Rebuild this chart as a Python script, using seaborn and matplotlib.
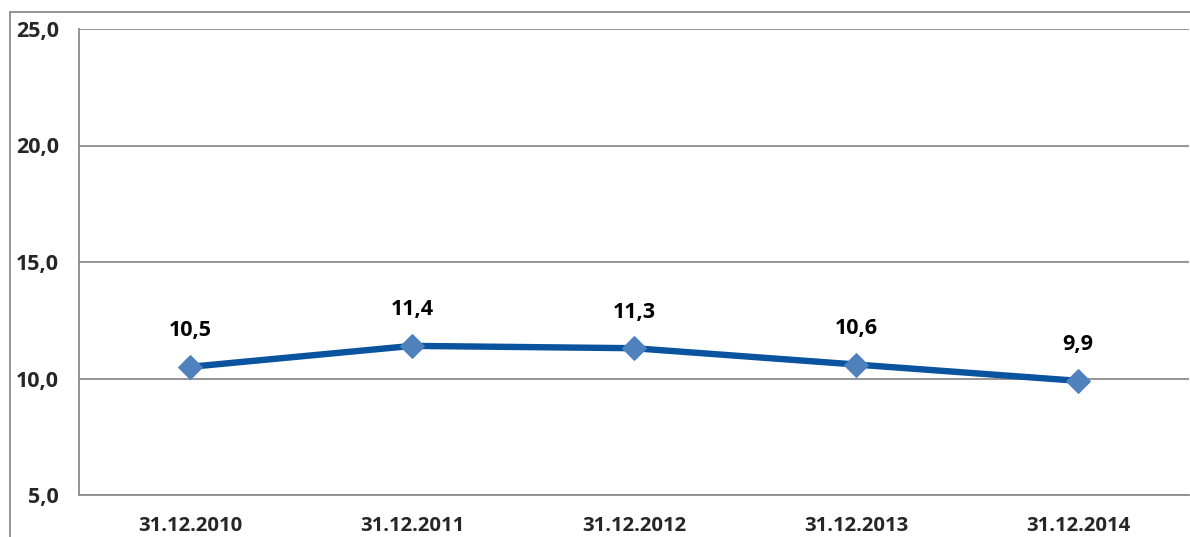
import pandas as pd
import numpy as np
import matplotlib.pyplot as plt
import matplotlib.ticker as mticker
from matplotlib.patches import Rectangle
import seaborn as sns

# Values
dates = ["31.12.2010", "31.12.2011", "31.12.2012", "31.12.2013", "31.12.2014"]
values = [10.5, 11.4, 11.3, 10.6, 9.9]
y_ticks = [5, 10, 15, 20, 25]

df = pd.DataFrame({"Date": dates, "Value": values})

sns.set_style("white")
plt.rcParams["font.family"] = ["Open Sans", "DejaVu Sans"]
plt.rcParams["font.weight"] = "bold"

fig = plt.figure(figsize=(11.9, 5.37), dpi=100)
W, H = 1190, 537
ax = fig.add_axes([79 / W, (H - 495) / H, (1189 - 79) / W, (495 - 29) / H])

# chart area border (cropped on the right and bottom)
fig.patches.append(Rectangle((10 / W, -0.05), 1.2, (H - 12) / H + 0.05,
                             transform=fig.transFigure, fill=False,
                             edgecolor="#8c8c8c", linewidth=1.3))

x = np.arange(len(dates))
sns.lineplot(x=x, y=df["Value"], ax=ax, color="#0A539E", linewidth=4.6,
             marker="D", markersize=12.5, markerfacecolor="#4F81BD",
             markeredgecolor="#4F81BD", zorder=3)

for xi, v in zip(x, values):
    ax.annotate(f"{v:.1f}".replace(".", ","), (xi, v), xytext=(0, 26),
                textcoords="offset points", ha="center", va="center",
                fontsize=15.5, fontweight="bold", color="black")

ax.set_xlim(-0.5, len(dates) - 0.5)
ax.set_ylim(5, 25)
ax.set_yticks(y_ticks)
ax.yaxis.set_major_formatter(mticker.FuncFormatter(lambda v, p: f"{v:.1f}".replace(".", ",")))
ax.grid(axis="y", color="#8c8c8c", linewidth=1.3)
ax.set_axisbelow(True)

# category boundaries as major ticks, labels at category centres
ax.set_xticks(np.arange(-0.5, len(dates), 1.0))
ax.set_xticklabels([])
ax.set_xticks(x, minor=True)
ax.set_xticklabels(dates, minor=True, fontweight="bold")
ax.tick_params(axis="x", which="major", length=6, width=1.3, color="#8c8c8c", direction="out")
ax.tick_params(axis="x", which="minor", length=0, pad=15, labelsize=14.6)
ax.tick_params(axis="y", length=7, width=1.3, color="#8c8c8c", direction="out", pad=7.5, labelsize=15.5)
for lbl in ax.get_yticklabels():
    lbl.set_fontweight("bold")

for s in ["top", "right"]:
    ax.spines[s].set_visible(False)
for s in ["left", "bottom"]:
    ax.spines[s].set_color("#8c8c8c")
    ax.spines[s].set_linewidth(1.3)

ax.set_xlabel("")
ax.set_ylabel("")

fig.savefig("out.png", dpi=100)
